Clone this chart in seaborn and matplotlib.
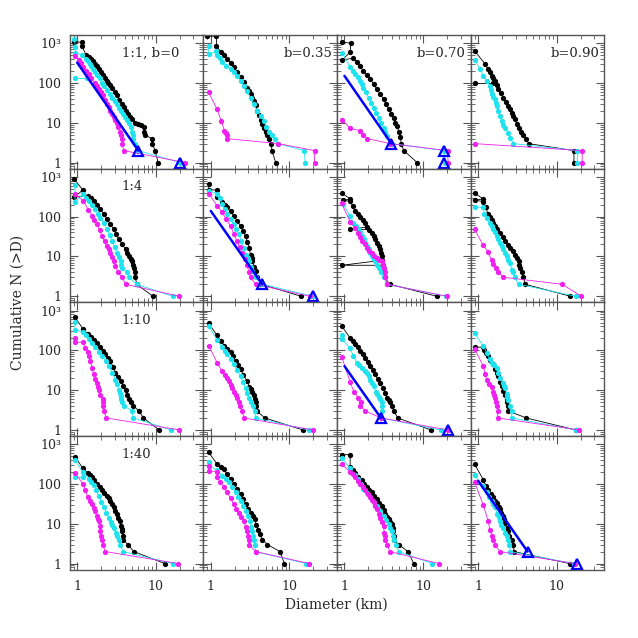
import numpy as np
import pandas as pd
import matplotlib
matplotlib.use("Agg")
import matplotlib.pyplot as plt
from matplotlib.ticker import FixedLocator, FixedFormatter, NullFormatter, LogLocator
import seaborn as sns

# Cumulative N(>D) vs diameter (km).
# rows: 1:1, 1:4, 1:10, 1:40   columns: b=0, 0.35, 0.70, 0.90

# ---- row 0 (1:1) ----
blk_r0c0 = [(0.92, 1100), (1.15, 1050), (1.15, 850), (1.3, 500), (1.4, 450), (1.5, 400), (1.6, 350),
            (1.7, 300), (1.8, 260), (1.9, 220), (2.0, 190), (2.1, 160), (2.25, 130), (2.4, 112),
            (2.5, 100), (2.65, 88), (2.8, 75), (3.0, 60), (3.2, 50), (3.45, 38), (3.7, 30), (3.95, 25),
            (4.2, 20), (4.45, 17), (4.7, 14), (5.0, 12.5), (5.5, 10), (6.0, 9.5), (6.4, 9), (7.0, 8),
            (7.1, 6), (7.2, 5), (8.9, 4), (9.0, 3), (9.8, 2), (10.7, 1)]
cyn_r0c0 = [(0.92, 1300), (0.95, 800), (0.95, 560), (1.15, 520), (1.3, 400), (1.37, 350), (1.44, 300),
            (1.52, 260), (1.6, 220), (1.7, 190), (1.8, 160), (1.93, 130), (2.07, 100), (2.2, 82),
            (2.4, 65), (2.6, 52), (2.8, 42), (3.0, 35), (3.2, 30), (3.4, 24), (3.6, 20), (3.85, 17),
            (4.1, 14), (4.3, 12), (4.55, 10), (4.8, 8), (5.0, 6), (5.1, 5), (5.2, 4), (5.4, 3), (6.0, 2),
            (20.5, 1)]
cyn_r0c0_b = [(0.95, 135), (1.35, 135)]
mag_r0c0 = [(0.94, 470), (1.05, 380), (1.12, 310), (1.2, 250), (1.3, 205), (1.4, 170), (1.52, 130),
            (1.67, 100), (1.78, 85), (1.9, 70), (2.0, 60), (2.1, 50), (2.25, 38), (2.4, 30), (2.52, 25),
            (2.65, 20), (2.78, 17), (2.9, 14), (3.05, 12), (3.2, 10), (3.35, 8), (3.5, 6), (3.6, 5),
            (3.7, 4), (3.75, 3), (3.9, 2), (23.7, 1)]
fit_r0c0 = [(1.0, 326), (6.0, 2)]
tri_r0c0 = [(6.0, 2), (20.5, 1)]

blk_r0c1 = [(0.89, 1500), (1.18, 1500), (1.18, 840), (1.35, 600), (1.48, 500), (1.61, 410), (1.78, 320),
            (1.96, 250), (2.15, 190), (2.39, 140), (2.62, 105), (2.9, 77), (3.05, 63), (3.2, 52),
            (3.37, 43), (3.54, 36), (3.7, 28), (3.9, 20), (4.1, 15.5), (4.3, 12), (4.5, 9.5), (4.75, 7.5),
            (5.0, 6), (5.25, 5), (5.5, 4), (5.9, 3), (5.95, 2), (6.7, 1)]
cyn_r0c1 = [(0.94, 840), (0.94, 530), (1.18, 620), (1.2, 520), (1.3, 420), (1.39, 335), (1.58, 275),
            (1.78, 226), (1.96, 185), (2.16, 153), (2.4, 115), (2.63, 85), (2.9, 62), (3.2, 43),
            (3.5, 30), (3.9, 20), (4.3, 15), (4.75, 11), (5.1, 8), (5.5, 6), (6.05, 5), (6.5, 4),
            (7.05, 3), (15.5, 2), (15.8, 1)]
mag_r0c1 = [(0.94, 58), (1.2, 22), (1.35, 11.4), (1.49, 6.4), (1.55, 5.5), (1.61, 5), (1.61, 4),
            (7.2, 3), (20.8, 2), (20.8, 1)]

blk_r0c2 = [(0.92, 1080), (1.2, 1000), (1.18, 600), (0.94, 380), (1.3, 420), (1.43, 335), (1.58, 260),
            (1.74, 205), (1.92, 160), (2.12, 126), (2.34, 95), (2.58, 70), (2.85, 52), (3.15, 39),
            (3.4, 29), (3.65, 22), (3.95, 17), (4.23, 13), (4.45, 10), (4.66, 8.2), (4.9, 6), (5.15, 4.3),
            (5.25, 3), (5.67, 2), (8.4, 1)]
cyn_r0c2 = [(0.94, 565), (1.18, 250), (1.27, 205), (1.36, 170), (1.47, 140), (1.58, 115), (1.66, 95),
            (1.74, 77), (1.88, 58), (2.02, 43), (2.18, 32), (2.34, 24), (2.52, 18), (2.71, 13.4),
            (2.92, 10), (3.15, 7.5), (3.3, 5.8), (3.46, 4.6), (3.98, 3), (18.4, 2), (19.0, 1)]
mag_r0c2 = [(0.94, 12), (1.18, 7.2), (1.58, 6.4), (1.74, 5), (1.96, 4), (3.8, 3), (20.4, 2), (20.8, 1)]
fit_r0c2 = [(1.0, 151), (3.95, 3)]
tri_r0c2 = [(3.95, 3), (18.2, 2), (18.2, 1)]

blk_r0c3 = [(0.9, 640), (1.22, 305), (1.32, 230), (1.4, 190), (1.48, 153), (1.56, 130), (1.64, 114),
            (1.72, 90), (1.8, 70), (1.95, 55), (2.09, 43), (2.25, 33), (2.42, 26.5), (2.55, 22),
            (2.67, 17.9), (2.8, 15), (2.95, 12.2), (3.1, 9.5), (3.26, 7.5), (3.5, 6), (3.77, 5),
            (4.05, 4), (4.38, 3), (16.5, 2), (16.5, 1)]
blk_r0c3_b = [(0.9, 100), (1.56, 100)]
cyn_r0c3 = [(0.9, 385), (1.05, 230), (1.16, 153), (1.3, 110), (1.41, 85), (1.45, 65), (1.48, 52),
            (1.56, 45), (1.64, 39), (1.68, 32), (1.72, 26.5), (1.8, 20), (1.9, 14.8), (1.99, 11),
            (2.1, 9), (2.2, 7.5), (2.4, 5.5), (2.55, 4.2), (2.81, 3), (18.2, 2), (18.2, 1)]
mag_r0c3 = [(0.9, 3), (21.0, 2), (21.0, 1)]

# ---- row 1 (1:4) ----
blk_r1c0 = [(0.92, 870), (1.18, 470), (0.92, 307), (1.36, 340), (1.5, 290), (1.62, 250), (1.8, 195),
            (1.97, 155), (2.2, 115), (2.4, 86), (2.65, 65), (2.92, 48), (3.15, 36), (3.39, 27),
            (3.75, 20), (4.12, 15), (4.35, 12), (4.6, 10), (4.8, 8.5), (5.0, 7.5), (5.15, 6), (5.27, 5),
            (5.38, 4), (5.5, 3), (5.7, 2), (9.2, 1)]
cyn_r1c0 = [(0.94, 610), (0.94, 230), (1.18, 370), (1.3, 300), (1.4, 250), (1.55, 195), (1.7, 155),
            (1.83, 120), (1.97, 95), (2.2, 68), (2.4, 48), (2.6, 34), (2.78, 24), (3.0, 17), (3.22, 12.3),
            (3.4, 9.5), (3.56, 7.5), (3.65, 6), (3.73, 5), (4.3, 4), (4.6, 3), (5.7, 2), (16.3, 1)]
mag_r1c0 = [(0.94, 375), (1.2, 250), (1.38, 150), (1.54, 105), (1.66, 82), (1.79, 64), (1.93, 45),
            (2.07, 32.5), (2.23, 24), (2.4, 18), (2.52, 15), (2.65, 12.3), (2.78, 9.5), (2.92, 7.5),
            (3.07, 5.6), (3.3, 4), (3.73, 3), (4.12, 2), (19.9, 1)]

blk_r1c1 = [(0.94, 670), (0.94, 470), (1.2, 470), (1.2, 318), (1.4, 230), (1.5, 200), (1.61, 170),
            (1.78, 135), (1.96, 105), (2.15, 80), (2.39, 58), (2.58, 43), (2.77, 32.5), (2.92, 23),
            (3.06, 16.4), (3.2, 11), (3.3, 9), (3.37, 7.5), (3.55, 5.5), (3.71, 4.2), (3.9, 3), (4.4, 2),
            (14.0, 1)]
cyn_r1c1 = [(0.94, 450), (1.2, 375), (1.3, 290), (1.39, 210), (1.5, 155), (1.61, 115), (1.78, 85),
            (1.96, 64), (2.1, 48), (2.27, 36), (2.45, 24), (2.63, 16.4), (2.8, 11), (2.93, 9), (3.06, 7.5),
            (3.2, 5.5), (3.37, 4.2), (3.71, 3), (4.5, 2), (19.8, 1)]
mag_r1c1 = [(0.94, 375), (1.2, 190), (1.39, 128), (1.58, 85), (1.78, 58), (1.96, 37), (2.16, 24),
            (2.33, 17), (2.51, 12.3), (2.7, 8.7), (2.9, 6.2), (3.05, 4), (3.2, 3), (3.7, 2), (18.0, 1)]
fit_r1c1 = [(1.0, 139), (4.5, 2)]
tri_r1c1 = [(4.5, 2), (19.8, 1)]

blk_r1c2 = [(0.92, 395), (1.18, 280), (0.95, 255), (1.18, 245), (1.27, 185), (1.36, 140), (1.47, 115),
            (1.58, 98), (1.7, 83), (1.83, 71), (1.95, 55), (1.18, 48), (2.05, 47), (2.23, 39.5),
            (2.35, 32), (2.46, 26.8), (2.58, 22), (2.71, 18), (2.81, 15), (2.91, 12.3), (2.96, 10),
            (3.0, 8), (0.92, 6), (3.08, 6), (3.14, 4.2), (3.24, 3), (3.76, 2), (14.9, 1)]
cyn_r1c2 = [(0.95, 208), (1.18, 105), (1.3, 71), (1.4, 58), (1.5, 48), (1.58, 40), (1.66, 32.5),
            (1.75, 27), (1.83, 22), (1.93, 18), (2.02, 15), (2.12, 12.3), (2.23, 10), (2.35, 8.5),
            (2.46, 7.5), (2.58, 6), (2.71, 5), (2.9, 4), (3.14, 3), (3.47, 2), (19.4, 1)]
mag_r1c2 = [(0.92, 215), (1.18, 75), (1.36, 53), (1.5, 38), (1.58, 30), (1.66, 24), (1.8, 20),
            (1.92, 16.4), (2.07, 14), (2.23, 12.3), (2.4, 10.5), (2.58, 9), (2.78, 8.2), (2.98, 7.5),
            (3.1, 6), (3.2, 5), (3.25, 4), (3.3, 3), (3.47, 2), (20.0, 1)]

blk_r1c3 = [(0.9, 395), (1.16, 278), (0.9, 260), (1.16, 240), (1.25, 170), (1.34, 116), (1.41, 97),
            (1.48, 81), (1.55, 68), (1.63, 58), (1.75, 48), (1.9, 39.5), (2.05, 31), (2.2, 24),
            (2.37, 19.5), (2.55, 16.4), (2.75, 13.5), (2.95, 11), (3.1, 9), (3.26, 7.5), (3.34, 6),
            (3.42, 5), (3.6, 4), (3.77, 3), (3.96, 2), (14.9, 1)]
cyn_r1c3 = [(0.9, 177), (1.16, 170), (1.2, 120), (1.3, 90), (1.41, 71), (1.48, 58), (1.56, 48),
            (1.64, 40), (1.72, 32.5), (1.8, 27), (1.9, 22), (2.0, 18), (2.09, 15), (2.2, 12.3),
            (2.31, 10), (2.43, 8.2), (2.55, 6.8), (2.67, 4.6), (2.8, 4), (2.9, 3), (3.26, 2), (17.4, 1)]
mag_r1c3 = [(0.9, 48), (1.16, 19), (1.34, 13), (1.48, 8), (1.56, 6.4), (1.7, 5), (1.8, 4), (2.09, 3),
            (11.7, 2), (20.5, 1)]

# ---- row 2 (1:10) ----
blk_r2c0 = [(0.94, 675), (1.18, 350), (1.36, 262), (1.5, 220), (1.62, 184), (1.8, 150), (1.97, 119),
            (2.13, 97), (2.29, 80), (2.47, 66), (2.65, 54), (2.85, 38), (3.07, 27), (3.3, 21),
            (3.56, 16.7), (3.85, 13), (4.12, 10), (4.3, 7.5), (4.5, 6), (4.78, 5), (5.2, 4), (6.1, 3),
            (6.95, 2), (11.0, 1)]
cyn_r2c0 = [(0.94, 520), (0.94, 330), (1.18, 290), (1.3, 240), (1.4, 195), (1.55, 150), (1.7, 119),
            (1.88, 92), (2.07, 73), (2.3, 55), (2.52, 40.5), (2.8, 27), (3.07, 18.4), (3.22, 14),
            (3.39, 10), (3.48, 8.5), (3.56, 7), (3.65, 6), (3.75, 5), (3.92, 4), (5.0, 3), (5.16, 2),
            (15.6, 1)]
mag_r2c0 = [(0.94, 208), (0.94, 160), (1.18, 160), (1.27, 115), (1.36, 89), (1.42, 70), (1.47, 54),
            (1.55, 36), (1.62, 25), (1.7, 19), (1.79, 15), (1.84, 12), (1.88, 10), (1.97, 7.6), (2.1, 6),
            (2.14, 5), (2.15, 4), (2.17, 3), (2.35, 2), (19.9, 1)]

blk_r2c1 = [(0.94, 475), (1.2, 238), (1.35, 170), (1.49, 131), (1.62, 108), (1.78, 89), (1.92, 70),
            (2.06, 54), (2.22, 42), (2.39, 33), (2.6, 24), (2.9, 16.7), (3.1, 12), (3.25, 10.5),
            (3.37, 9), (3.5, 7.5), (3.6, 6), (3.71, 5), (3.78, 4), (3.84, 3), (4.85, 2), (14.7, 1)]
cyn_r2c1 = [(0.94, 405), (1.2, 185), (1.39, 120), (1.5, 98), (1.6, 80), (1.78, 60), (1.96, 45),
            (2.15, 32), (2.39, 22.4), (2.58, 16), (2.77, 11.3), (2.9, 8.5), (3.06, 6.2), (3.2, 5),
            (3.4, 4), (3.6, 3), (3.71, 2), (17.5, 1)]
mag_r2c1 = [(0.94, 131), (1.2, 49), (1.39, 30), (1.5, 24), (1.61, 20), (1.7, 16.5), (1.78, 13.7),
            (1.87, 11), (1.96, 9.2), (2.06, 7.5), (2.16, 6.2), (2.3, 5), (2.35, 4), (2.5, 3), (2.63, 2),
            (19.8, 1)]

blk_r2c2 = [(0.92, 410), (1.18, 204), (1.27, 170), (1.36, 145), (1.47, 120), (1.58, 98), (1.7, 80),
            (1.83, 66), (1.97, 52), (2.12, 40.5), (2.28, 32), (2.46, 24.7), (2.65, 19), (2.85, 15),
            (3.1, 11), (3.3, 8.4), (3.5, 6.5), (3.65, 5.6), (3.8, 5), (4.0, 4), (4.23, 3), (4.75, 2),
            (12.5, 1)]
cyn_r2c2 = [(0.92, 245), (0.92, 195), (1.18, 114), (1.3, 70), (1.43, 49), (1.55, 42), (1.66, 36.6),
            (1.8, 31), (1.92, 27), (2.02, 22), (2.12, 18.4), (2.23, 15), (2.34, 12.4), (2.5, 9), (2.6, 8),
            (2.71, 6.9), (2.85, 6), (2.99, 5), (3.0, 4), (2.99, 3), (2.9, 2), (16.8, 1)]
mag_r2c2 = [(0.92, 69), (1.18, 16), (1.32, 9), (1.5, 6.5), (1.61, 5), (1.58, 4), (1.83, 3), (2.9, 2),
            (20.4, 1)]
fit_r2c2 = [(1.0, 40), (2.9, 2)]
tri_r2c2 = [(2.9, 2), (20.4, 1)]

blk_r2c3 = [(0.9, 120), (1.16, 120), (1.2, 100), (1.27, 85), (1.34, 73), (1.43, 58), (1.53, 46.5),
            (1.63, 33), (1.72, 27), (1.8, 22.4), (1.9, 16), (1.99, 12.4), (2.1, 9.5), (2.2, 7.6),
            (2.3, 6), (2.35, 5), (2.4, 4), (2.42, 3), (4.08, 2), (17.3, 1)]
cyn_r2c3 = [(0.9, 265), (1.16, 130), (1.3, 85), (1.4, 62), (1.48, 49), (1.6, 42), (1.72, 36.6),
            (1.8, 27), (1.9, 20), (2.05, 15), (2.12, 13), (2.2, 11.3), (2.3, 8), (2.36, 6.8), (2.42, 5.6),
            (2.55, 4), (2.67, 3), (2.67, 2), (17.3, 1)]
mag_r2c3 = [(0.9, 108), (1.16, 40.5), (1.22, 26), (1.28, 18.4), (1.38, 14), (1.48, 11.7), (1.56, 9),
            (1.6, 7.5), (1.63, 6.2), (1.7, 5), (1.75, 4), (1.77, 3), (1.77, 2), (19.0, 1)]

# ---- row 3 (1:40) ----
blk_r3c0 = [(0.94, 490), (1.18, 247), (1.36, 190), (1.45, 170), (1.54, 150), (1.66, 125), (1.79, 102),
            (1.93, 84), (2.07, 69), (2.22, 60), (2.4, 51), (2.52, 44), (2.65, 38), (2.78, 31),
            (2.92, 25.7), (3.07, 21), (3.22, 17.4), (3.35, 14), (3.49, 11.7), (3.6, 9), (3.67, 7.5),
            (3.73, 6.5), (3.8, 5), (3.85, 4), (4.42, 3), (5.27, 2), (13.0, 1)]
cyn_r3c0 = [(0.94, 390), (1.18, 200), (1.4, 137), (1.5, 115), (1.62, 92.5), (1.75, 70), (1.88, 51),
            (2.02, 36), (2.18, 25.7), (2.35, 19), (2.52, 14.3), (2.7, 11), (2.81, 9.3), (2.92, 7.9),
            (3.1, 6), (3.22, 4.8), (3.4, 4), (3.5, 3), (3.85, 2), (16.4, 1)]
cyn_r3c0_b = [(0.94, 150), (1.18, 150)]
mag_r3c0 = [(0.94, 190), (1.18, 102), (1.27, 70), (1.36, 46), (1.45, 38), (1.54, 31), (1.62, 25),
            (1.7, 21), (1.79, 15.7), (1.84, 13.5), (1.88, 11.7), (1.93, 9), (1.97, 6.5), (2.02, 5),
            (2.07, 4), (2.1, 3), (2.29, 2), (19.3, 1)]

blk_r3c1 = [(0.94, 620), (1.2, 318), (1.33, 270), (1.46, 232), (1.61, 177), (1.78, 135), (1.96, 102),
            (2.16, 76), (2.39, 56.5), (2.57, 42), (2.77, 31.3), (2.98, 24), (3.2, 19.2), (3.4, 15.5),
            (3.6, 12.9), (3.78, 9.5), (3.96, 7.1), (4.2, 5.5), (4.5, 4), (5.25, 3), (7.6, 2), (8.6, 1)]
cyn_r3c1 = [(0.94, 365), (0.94, 280), (1.2, 223), (1.4, 160), (1.54, 135), (1.69, 112), (1.86, 85),
            (2.06, 62), (2.22, 48), (2.39, 38), (2.58, 28), (2.77, 21), (2.95, 15.5), (3.15, 11.7),
            (3.27, 8.5), (3.37, 6.5), (3.45, 5), (3.55, 4), (3.6, 3), (3.71, 2), (16.3, 1)]
mag_r3c1 = [(0.94, 283), (0.94, 215), (1.2, 203), (1.2, 150), (1.32, 112), (1.45, 85), (1.61, 62),
            (1.78, 44), (1.96, 31), (2.1, 24), (2.27, 19), (2.45, 15), (2.63, 11.7), (2.77, 8.5),
            (2.9, 6.5), (3.0, 5), (3.06, 4), (3.06, 3), (3.71, 2), (17.9, 1)]

blk_r3c2 = [(0.92, 545), (1.18, 545), (1.18, 272), (1.27, 225), (1.36, 190), (1.5, 150), (1.66, 124),
            (1.78, 102), (1.92, 84), (2.07, 72), (2.23, 62), (2.4, 51), (2.58, 42), (2.78, 34),
            (2.99, 28.3), (3.15, 22), (3.3, 17.4), (3.47, 15), (3.65, 12.9), (3.82, 11), (4.0, 9.6),
            (4.08, 8), (4.14, 6.5), (4.2, 5), (4.23, 4), (4.9, 3), (6.4, 2), (7.6, 1)]
cyn_r3c2 = [(0.92, 445), (1.18, 250), (1.36, 170), (1.5, 130), (1.62, 100), (1.74, 76), (1.92, 60),
            (2.12, 46), (2.35, 36), (2.58, 28.3), (2.85, 21), (3.14, 15.7), (3.4, 12.3), (3.65, 9.6),
            (3.82, 8), (4.0, 6.5), (4.15, 5), (4.3, 4), (4.5, 3), (4.9, 2), (13.1, 1)]
mag_r3c2 = [(0.92, 310), (1.18, 203), (1.27, 175), (1.36, 150), (1.47, 122), (1.58, 102), (1.7, 83),
            (1.83, 69), (1.97, 56), (2.12, 46), (2.23, 40), (2.34, 34.5), (2.46, 28), (2.58, 23),
            (2.72, 18), (2.85, 14.3), (3.0, 11), (3.14, 8.7), (3.2, 6), (3.25, 5), (3.3, 4), (3.5, 3),
            (3.76, 2), (15.9, 1)]

blk_r3c3 = [(0.9, 318), (1.16, 129), (1.25, 90), (1.34, 69), (1.45, 56), (1.56, 46), (1.65, 38),
            (1.75, 32.6), (1.82, 27), (1.9, 23.3), (1.97, 19), (2.05, 15.7), (2.12, 13), (2.2, 10.6),
            (2.3, 8), (2.42, 6.5), (2.5, 5), (2.67, 4), (2.8, 3), (2.86, 2), (14.6, 1)]
cyn_r3c3 = [(0.9, 166), (1.16, 87.5), (1.28, 62.5), (1.38, 48), (1.48, 38), (1.55, 31), (1.63, 25.7),
            (1.75, 18), (1.82, 14.5), (1.9, 11.7), (1.97, 9.5), (2.05, 7.9), (2.2, 5.9), (2.3, 5),
            (2.42, 4), (2.5, 3), (2.55, 2), (16.5, 1)]
mag_r3c3 = [(0.9, 112), (1.16, 30), (1.34, 11.7), (1.41, 7), (1.5, 5), (1.56, 4), (1.63, 3), (1.9, 2),
            (17.0, 1)]
fit_r3c3 = [(1.0, 120), (4.25, 2)]
tri_r3c3 = [(4.25, 2), (17.9, 1)]

row_labels = ["1:1, b=0", "1:4", "1:10", "1:40"]
col_labels = ["", "b=0.35", "b=0.70", "b=0.90"]
y_ticks = [1, 10, 100, 1000]
y_ticklabels = ["1", "10", "100", "10\u00b3"]
x_ticks = [1, 10]
x_ticklabels = ["1", "10"]

colors = {"black": "#000000", "cyan": "#1ee3ee", "magenta": "#f020f0", "blue": "#0000ff"}

series = {
    (0, 0): [("black", blk_r0c0), ("cyan", cyn_r0c0), ("cyan", cyn_r0c0_b), ("magenta", mag_r0c0)],
    (0, 1): [("black", blk_r0c1), ("cyan", cyn_r0c1), ("magenta", mag_r0c1)],
    (0, 2): [("black", blk_r0c2), ("cyan", cyn_r0c2), ("magenta", mag_r0c2)],
    (0, 3): [("black", blk_r0c3), ("black", blk_r0c3_b), ("cyan", cyn_r0c3), ("magenta", mag_r0c3)],
    (1, 0): [("black", blk_r1c0), ("cyan", cyn_r1c0), ("magenta", mag_r1c0)],
    (1, 1): [("black", blk_r1c1), ("cyan", cyn_r1c1), ("magenta", mag_r1c1)],
    (1, 2): [("black", blk_r1c2), ("cyan", cyn_r1c2), ("magenta", mag_r1c2)],
    (1, 3): [("black", blk_r1c3), ("cyan", cyn_r1c3), ("magenta", mag_r1c3)],
    (2, 0): [("black", blk_r2c0), ("cyan", cyn_r2c0), ("magenta", mag_r2c0)],
    (2, 1): [("black", blk_r2c1), ("cyan", cyn_r2c1), ("magenta", mag_r2c1)],
    (2, 2): [("black", blk_r2c2), ("cyan", cyn_r2c2), ("magenta", mag_r2c2)],
    (2, 3): [("black", blk_r2c3), ("cyan", cyn_r2c3), ("magenta", mag_r2c3)],
    (3, 0): [("black", blk_r3c0), ("cyan", cyn_r3c0), ("cyan", cyn_r3c0_b), ("magenta", mag_r3c0)],
    (3, 1): [("black", blk_r3c1), ("cyan", cyn_r3c1), ("magenta", mag_r3c1)],
    (3, 2): [("black", blk_r3c2), ("cyan", cyn_r3c2), ("magenta", mag_r3c2)],
    (3, 3): [("black", blk_r3c3), ("cyan", cyn_r3c3), ("magenta", mag_r3c3)],
}
fits = {
    (0, 0): (fit_r0c0, tri_r0c0),
    (0, 2): (fit_r0c2, tri_r0c2),
    (1, 1): (fit_r1c1, tri_r1c1),
    (2, 2): (fit_r2c2, tri_r2c2),
    (3, 3): (fit_r3c3, tri_r3c3),
}

sns.set_style("ticks")
plt.rcParams['font.family'] = ['DejaVu Serif']

fig, axes = plt.subplots(4, 4, figsize=(6.38, 6.38), dpi=100, sharex=True, sharey=True)
fig.subplots_adjust(left=0.109, right=0.947, bottom=0.107, top=0.945, wspace=0, hspace=0)

for (r, c), items in series.items():
    ax = axes[r, c]
    ax.set_xscale('log')
    ax.set_yscale('log')
    for name, pts in items:
        df = pd.DataFrame(pts, columns=['D', 'N'])
        sns.lineplot(data=df, x='D', y='N', sort=False, estimator=None, ax=ax,
                     color=colors[name], lw=0.6, marker='o', markersize=3.8,
                     markeredgewidth=0, legend=False)
    if (r, c) in fits:
        fit, tri = fits[(r, c)]
        df = pd.DataFrame(fit, columns=['D', 'N'])
        sns.lineplot(data=df, x='D', y='N', sort=False, estimator=None, ax=ax,
                     color=colors['blue'], lw=1.8, legend=False)
        df = pd.DataFrame(tri, columns=['D', 'N'])
        sns.lineplot(data=df, x='D', y='N', sort=False, estimator=None, ax=ax,
                     color=colors['blue'], linestyle='', marker='^', markersize=7.5,
                     markerfacecolor='none', markeredgecolor=colors['blue'],
                     markeredgewidth=1.6, legend=False)

    ax.set_xlim(0.8, 40)
    ax.set_ylim(0.7, 1600)
    ax.set_xlabel('')
    ax.set_ylabel('')
    for sp in ax.spines.values():
        sp.set_color('#555555')
        sp.set_linewidth(1.0)
    ax.tick_params(which='both', direction='in', top=True, right=True, color='#555555',
                   labelsize=9)
    ax.tick_params(axis='x', pad=7.5)
    ax.tick_params(axis='y', pad=6)
    ax.tick_params(which='major', length=6, width=0.8)
    ax.tick_params(which='minor', length=3, width=0.6)

    if c == 0:
        ax.text(0.39, 0.865, row_labels[r], transform=ax.transAxes, fontsize=9.5,
                ha='left', va='center')
    elif r == 0:
        ax.text(0.965, 0.865, col_labels[c], transform=ax.transAxes, fontsize=9.5,
                ha='right', va='center')

ax0 = axes[0, 0]
ax0.xaxis.set_major_locator(FixedLocator(x_ticks))
ax0.xaxis.set_major_formatter(FixedFormatter(x_ticklabels))
ax0.xaxis.set_minor_locator(LogLocator(base=10, subs=np.arange(2, 10)))
ax0.xaxis.set_minor_formatter(NullFormatter())
ax0.yaxis.set_major_locator(FixedLocator(y_ticks))
ax0.yaxis.set_major_formatter(FixedFormatter(y_ticklabels))
ax0.yaxis.set_minor_locator(LogLocator(base=10, subs=np.arange(2, 10)))
ax0.yaxis.set_minor_formatter(NullFormatter())

fig.text(0.028, 0.526, "Cumulative N (>D)", rotation=90, ha='center', va='center', fontsize=10)
fig.text(0.528, 0.052, "Diameter (km)", ha='center', va='center', fontsize=10)

fig.savefig("out.png", dpi=100)
plt.close(fig)
